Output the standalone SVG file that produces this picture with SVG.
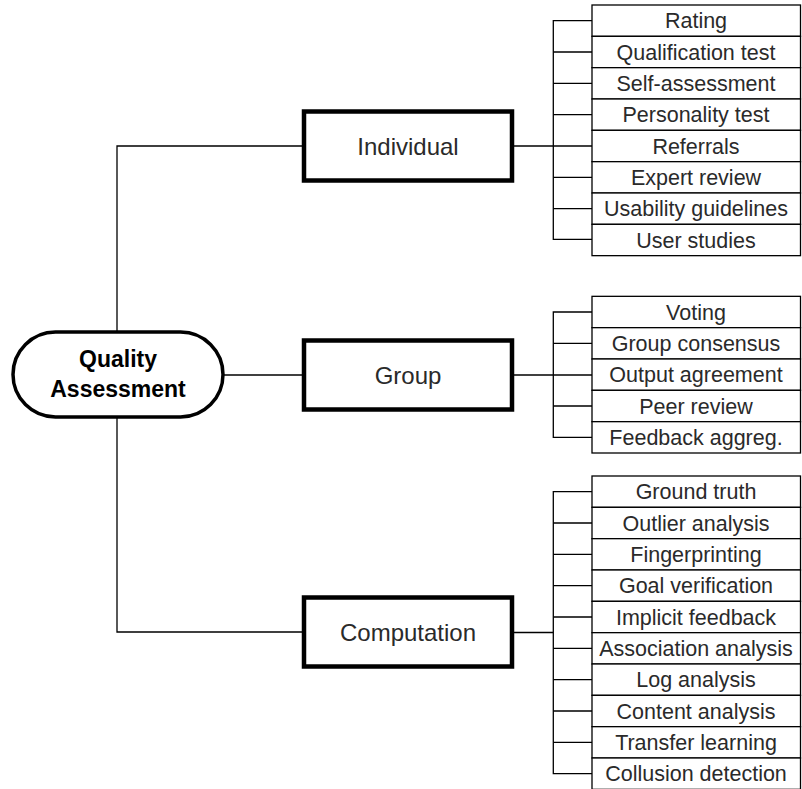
<svg xmlns="http://www.w3.org/2000/svg" width="802" height="789" viewBox="0 0 802 789">
<style>
.bg{fill:#ffffff}
.conn{fill:none;stroke:#000;stroke-width:1.3}
.root{fill:#fff;stroke:#000;stroke-width:3.5}
.mid{fill:#fff;stroke:#000;stroke-width:4.5}
.leaf{fill:#fff;stroke:#000;stroke-width:1.3}
.rt{font-family:"Liberation Sans",Arial,sans-serif;font-size:23px;font-weight:bold;fill:#000;text-anchor:middle}
.mt{font-family:"Liberation Sans",Arial,sans-serif;font-size:24px;fill:#2a2a2a;text-anchor:middle}
.lt{font-family:"Liberation Sans",Arial,sans-serif;font-size:21.5px;fill:#2a2a2a;text-anchor:middle}
</style>
<rect class="bg" x="0" y="0" width="802" height="789"/>
<g id="connectors">
<path class="conn" d="M117,332 V146 H304"/>
<path class="conn" d="M117,417 V632 H303"/>
<path class="conn" d="M223,375 H304"/>
<path class="conn" d="M512,146 H592"/>
<path class="conn" d="M592,20.7 H553.3 V239.3 H592"/>
<path class="conn" d="M553.3,52 H592 M553.3,83.3 H592 M553.3,114.7 H592 M553.3,177.3 H592 M553.3,208.7 H592"/>
<path class="conn" d="M512,375 H592"/>
<path class="conn" d="M592,312 H553.3 V437.3 H592"/>
<path class="conn" d="M553.3,343.3 H592 M553.3,406 H592"/>
<path class="conn" d="M513,632.5 H553.3"/>
<path class="conn" d="M592,491.7 H553.3 V773.7 H592"/>
<path class="conn" d="M553.3,523 H592 M553.3,554.3 H592 M553.3,585.7 H592 M553.3,617 H592 M553.3,648.3 H592 M553.3,679.7 H592 M553.3,711 H592 M553.3,742.3 H592"/>
</g>
<g id="root">
<rect class="root" x="13" y="332" width="210" height="85" rx="42.5" ry="42.5"/>
<text class="rt" x="118" y="367">Quality</text>
<text class="rt" x="118" y="397">Assessment</text>
</g>
<g id="individual">
<rect class="mid" x="304" y="111.5" width="208" height="69"/>
<text class="mt" x="408" y="154.5">Individual</text>
</g>
<g id="group">
<rect class="mid" x="304" y="340.5" width="208" height="69"/>
<text class="mt" x="408" y="383.5">Group</text>
</g>
<g id="computation">
<rect class="mid" x="304" y="597.5" width="208" height="69"/>
<text class="mt" x="408" y="641">Computation</text>
</g>
<g id="individual-leaves">
<g id="leaf-rating"><rect class="leaf" x="592" y="5" width="208.5" height="31.33"/><text class="lt" x="696" y="28.3">Rating</text></g>
<g id="leaf-qualification"><rect class="leaf" x="592" y="36.33" width="208.5" height="31.33"/><text class="lt" x="696" y="59.6">Qualification test</text></g>
<g id="leaf-self"><rect class="leaf" x="592" y="67.67" width="208.5" height="31.33"/><text class="lt" x="696" y="91">Self-assessment</text></g>
<g id="leaf-personality"><rect class="leaf" x="592" y="99" width="208.5" height="31.33"/><text class="lt" x="696" y="122.3">Personality test</text></g>
<g id="leaf-referrals"><rect class="leaf" x="592" y="130.33" width="208.5" height="31.33"/><text class="lt" x="696" y="153.6">Referrals</text></g>
<g id="leaf-expert"><rect class="leaf" x="592" y="161.67" width="208.5" height="31.33"/><text class="lt" x="696" y="185">Expert review</text></g>
<g id="leaf-usability"><rect class="leaf" x="592" y="193" width="208.5" height="31.33"/><text class="lt" x="696" y="216.3">Usability guidelines</text></g>
<g id="leaf-user"><rect class="leaf" x="592" y="224.33" width="208.5" height="31.33"/><text class="lt" x="696" y="247.6">User studies</text></g>
</g>
<g id="group-leaves">
<g id="leaf-voting"><rect class="leaf" x="592" y="296.33" width="208.5" height="31.33"/><text class="lt" x="696" y="319.6">Voting</text></g>
<g id="leaf-consensus"><rect class="leaf" x="592" y="327.67" width="208.5" height="31.33"/><text class="lt" x="696" y="351">Group consensus</text></g>
<g id="leaf-output"><rect class="leaf" x="592" y="359" width="208.5" height="31.33"/><text class="lt" x="696" y="382.3">Output agreement</text></g>
<g id="leaf-peer"><rect class="leaf" x="592" y="390.33" width="208.5" height="31.33"/><text class="lt" x="696" y="413.6">Peer review</text></g>
<g id="leaf-feedback"><rect class="leaf" x="592" y="421.67" width="208.5" height="31.33"/><text class="lt" x="696" y="445">Feedback aggreg.</text></g>
</g>
<g id="computation-leaves">
<g id="leaf-ground"><rect class="leaf" x="592" y="476" width="208.5" height="31.33"/><text class="lt" x="696" y="499.3">Ground truth</text></g>
<g id="leaf-outlier"><rect class="leaf" x="592" y="507.33" width="208.5" height="31.33"/><text class="lt" x="696" y="530.6">Outlier analysis</text></g>
<g id="leaf-finger"><rect class="leaf" x="592" y="538.67" width="208.5" height="31.33"/><text class="lt" x="696" y="562">Fingerprinting</text></g>
<g id="leaf-goal"><rect class="leaf" x="592" y="570" width="208.5" height="31.33"/><text class="lt" x="696" y="593.3">Goal verification</text></g>
<g id="leaf-implicit"><rect class="leaf" x="592" y="601.33" width="208.5" height="31.33"/><text class="lt" x="696" y="624.6">Implicit feedback</text></g>
<g id="leaf-association"><rect class="leaf" x="592" y="632.67" width="208.5" height="31.33"/><text class="lt" x="696" y="656">Association analysis</text></g>
<g id="leaf-log"><rect class="leaf" x="592" y="664" width="208.5" height="31.33"/><text class="lt" x="696" y="687.3">Log analysis</text></g>
<g id="leaf-content"><rect class="leaf" x="592" y="695.33" width="208.5" height="31.33"/><text class="lt" x="696" y="718.6">Content analysis</text></g>
<g id="leaf-transfer"><rect class="leaf" x="592" y="726.67" width="208.5" height="31.33"/><text class="lt" x="696" y="750">Transfer learning</text></g>
<g id="leaf-collusion"><rect class="leaf" x="592" y="758" width="208.5" height="31.33"/><text class="lt" x="696" y="781.3">Collusion detection</text></g>
</g>
</svg>
